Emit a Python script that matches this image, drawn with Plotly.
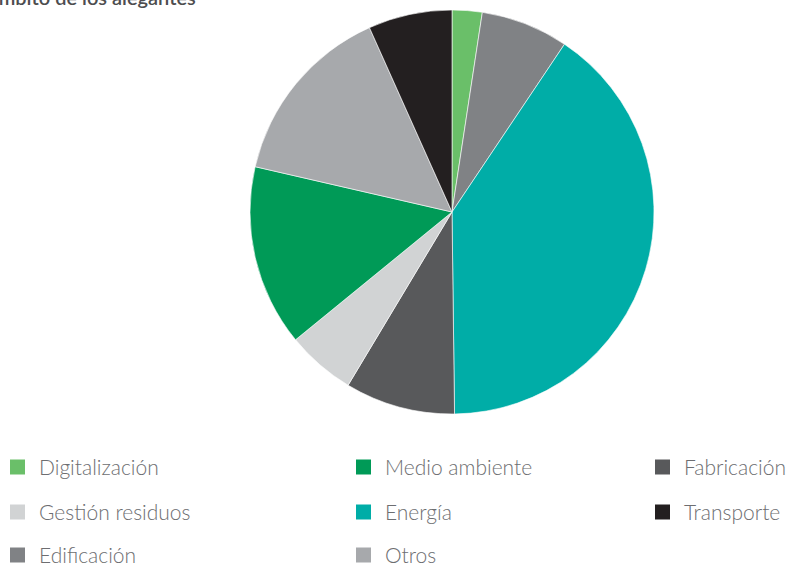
import plotly.graph_objects as go

# Share of submissions by sector (%)
categories = ["Digitalización", "Edificación", "Energía", "Fabricación",
              "Gestión residuos", "Medio ambiente", "Otros", "Transporte"]
shares = [2.4, 7.0, 40.4, 8.8, 5.5, 14.5, 14.7, 6.7]
colors = ["#6abf69", "#808285", "#00ada7", "#58595b",
          "#d1d3d4", "#009a57", "#a7a9ac", "#231f20"]

# Legend layout: rows of entries, filled left to right
legend_rows = [
    ["Digitalización", "Medio ambiente", "Fabricación"],
    ["Gestión residuos", "Energía", "Transporte"],
    ["Edificación", "Otros"],
]

W, H = 792, 566
fig = go.Figure()

fig.add_trace(go.Pie(
    labels=categories,
    values=shares,
    sort=False,
    direction="clockwise",
    rotation=0,
    marker=dict(colors=colors, line=dict(color="#ffffff", width=0.6)),
    textinfo="none",
    hoverinfo="label+percent",
    showlegend=False,
    domain=dict(x=[250 / W, 654 / W], y=[1 - 414 / H, 1 - 10 / H]),
))

col_x = [10, 356, 655]
row_y = [467, 512, 555]
sq = 15
shapes = []
annotations = []
color_of = dict(zip(categories, colors))
for r, row in enumerate(legend_rows):
    for c, name in enumerate(row):
        x0 = col_x[c]
        yc = row_y[r]
        shapes.append(dict(
            type="rect", xref="paper", yref="paper",
            x0=x0 / W, x1=(x0 + sq) / W,
            y0=1 - (yc + sq / 2) / H, y1=1 - (yc - sq / 2) / H,
            fillcolor=color_of[name], line=dict(width=0),
        ))
        annotations.append(dict(
            text=name, xref="paper", yref="paper",
            x=(x0 + sq + 12) / W, y=1 - (yc - 1) / H,
            xanchor="left", yanchor="middle", showarrow=False,
            font=dict(family="Lato", size=21, color="#6d6e71", weight=300),
        ))

# Chart heading, partly above the visible area
annotations.append(dict(
    text="Distribución por ámbito de los alegantes",
    xref="paper", yref="paper", x=198 / W, y=1 + 3 / H,
    xanchor="right", yanchor="middle", showarrow=False,
    font=dict(family="Lato", size=20, color="#4d4d4f", weight=600),
))

fig.update_layout(
    width=W, height=H,
    margin=dict(l=0, r=0, t=0, b=0),
    paper_bgcolor="#ffffff",
    plot_bgcolor="#ffffff",
    shapes=shapes,
    annotations=annotations,
)

fig.write_html("out.html")
